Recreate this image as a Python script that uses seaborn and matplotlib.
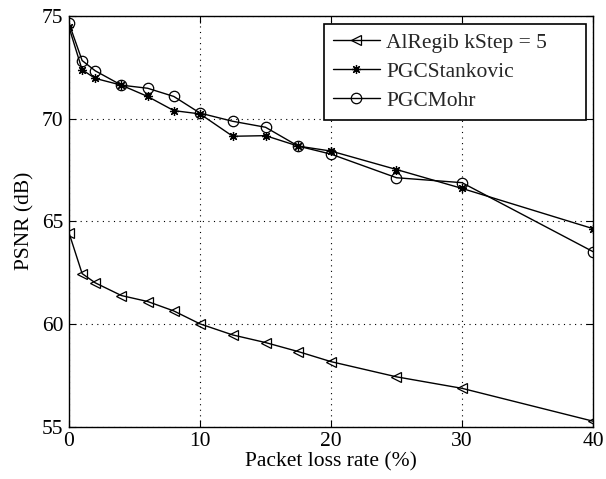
import matplotlib
matplotlib.use("Agg")
import matplotlib.pyplot as plt
import seaborn as sns
import pandas as pd

loss = [0, 1, 2, 4, 6, 8, 10, 12.5, 15, 17.5, 20, 25, 30, 40]
alregib = [64.43, 62.45, 62.0, 61.38, 61.09, 60.63, 60.0, 59.46, 59.09, 58.65, 58.16, 57.42, 56.86, 55.26]
stankovic = [74.45, 72.38, 71.96, 71.63, 71.08, 70.39, 70.23, 69.14, 69.17, 68.66, 68.42, 67.52, 66.6, 64.64]
mohr = [74.64, 72.83, 72.33, 71.63, 71.48, 71.08, 70.27, 69.87, 69.58, 68.66, 68.27, 67.12, 66.88, 63.52]
labels = ["AlRegib kStep = 5", "PGCStankovic", "PGCMohr"]
xticks = [0, 10, 20, 30, 40]
yticks = [55, 60, 65, 70, 75]

sns.set_theme(style="white")
plt.rcParams['font.family'] = ['Liberation Serif', 'DejaVu Serif']

fig = plt.figure(figsize=(6.06, 4.79), dpi=100)
ax = fig.add_axes([0.1139, 0.1096, 0.8646, 0.857])

series = [alregib, stankovic, mohr]
markers = ['<', (8, 2, 0), 'o']
msizes = [7.5, 6.5, 7.5]
for vals, lab, m, ms in zip(series, labels, markers, msizes):
    df = pd.DataFrame({"x": loss, "y": vals})
    sns.lineplot(data=df, x="x", y="y", ax=ax, color='black', linewidth=1.0,
                 marker=m, markersize=ms, markerfacecolor='none',
                 markeredgecolor='black', markeredgewidth=0.9, label=lab)

ax.set_xlim(0, 40)
ax.set_ylim(55, 75)
ax.set_xticks(xticks)
ax.set_yticks(yticks)
ax.grid(True, color='black', linestyle=(0, (1, 4)), linewidth=0.8)
for s in ax.spines.values():
    s.set_visible(True)
    s.set_color('black')
    s.set_linewidth(1.0)
ax.tick_params(direction='in', length=5, width=0.8, colors='black', labelsize=15.5,
               top=True, right=True, bottom=True, left=True, pad=4)
ax.set_xlabel("Packet loss rate (%)", fontsize=15.5, color='black', labelpad=1)
ax.set_ylabel("PSNR (dB)", fontsize=15.5, color='black', labelpad=5)
for t in ax.get_xticklabels() + ax.get_yticklabels():
    t.set_color('black')

leg = ax.legend(loc='upper left', bbox_to_anchor=(0.4866, 0.5, 0.5, 0.4805), mode='expand',
                borderaxespad=0, fontsize=15.5, frameon=True, fancybox=False,
                edgecolor='black', framealpha=1, handlelength=2.2, borderpad=0.4,
                labelspacing=0.42, handletextpad=0.3)
leg.get_frame().set_linewidth(1.2)

fig.savefig("out.png", dpi=100)
